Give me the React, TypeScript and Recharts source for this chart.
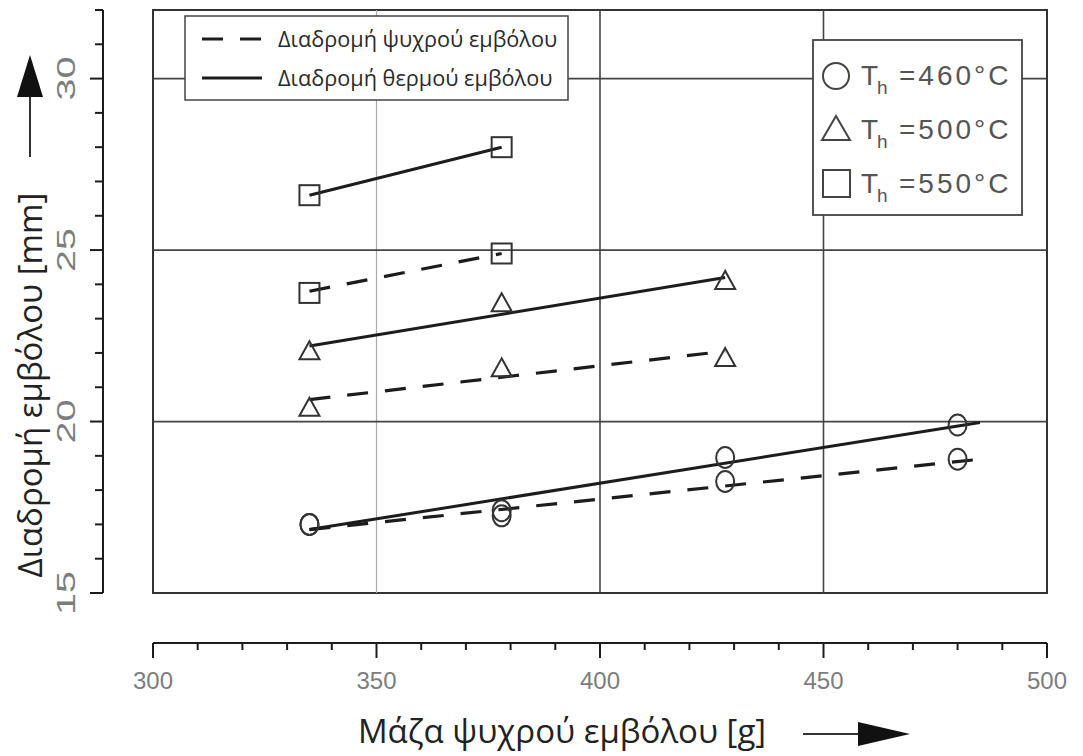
import React from 'react';
import {
  ComposedChart, XAxis, YAxis, Line, Scatter,
  ReferenceLine, ReferenceArea,
} from 'recharts';

// ── axes ─────────────────────────────────────────────────────────────────────
const massDomain = [300, 500];
const massTicks = [300, 350, 400, 450, 500];
const massRulerTicks = [
  300, 310, 320, 330, 340, 350, 360, 370, 380, 390, 400,
  410, 420, 430, 440, 450, 460, 470, 480, 490, 500,
];
const strokeDomain = [15, 32];
const strokeTicks = [15, 20, 25, 30];
const strokeRulerTicks = [15, 16, 17, 18, 19, 20, 21, 22, 23, 24, 25, 26, 27, 28, 29, 30, 31, 32];
const gridMass = [350, 400, 450];
const gridStroke = [20, 25, 30];

// ── measured points (x = cold piston mass g, y = stroke mm) ──────────────────
const circleHot = [{ x: 335, y: 17.0 }, { x: 378, y: 17.4 }, { x: 428, y: 18.95 }, { x: 480, y: 19.9 }];
const circleCold = [{ x: 335, y: 17.0 }, { x: 378, y: 17.25 }, { x: 428, y: 18.25 }, { x: 480, y: 18.9 }];
const triangleHot = [{ x: 335, y: 22.05 }, { x: 378, y: 23.45 }, { x: 428, y: 24.1 }];
const triangleCold = [{ x: 335, y: 20.4 }, { x: 378, y: 21.55 }, { x: 428, y: 21.85 }];
const squareHot = [{ x: 335, y: 26.6 }, { x: 378, y: 28.0 }];
const squareCold = [{ x: 335, y: 23.75 }, { x: 378, y: 24.9 }];

// ── fitted lines ─────────────────────────────────────────────────────────────
const circleHotFit = [{ x: 335, y: 16.85 }, { x: 485, y: 19.97 }];
const circleColdFit = [{ x: 335, y: 16.85 }, { x: 485, y: 18.9 }];
const triangleHotFit = [{ x: 335, y: 22.2 }, { x: 428, y: 24.2 }];
const triangleColdFit = [{ x: 335, y: 20.64 }, { x: 428, y: 22.05 }];
const squareHotFit = [{ x: 335, y: 26.6 }, { x: 378, y: 28.0 }];
const squareColdFit = [{ x: 335, y: 23.8 }, { x: 378, y: 24.9 }];

const lineLegend = ['Διαδρομή ψυχρού εμβόλου', 'Διαδρομή θερμού εμβόλου'];
const tempLegend = ['=460°C', '=500°C', '=550°C'];

const INK = '#1c1c1c';
const MARK = '#333';
const TICK_TEXT = '#7d7d7d';
const DASH = '21 17';
const SANS = '"Open Sans", sans-serif';
const PLOT_FONT = '"Liberation Sans", Arial, sans-serif';

const CircleMark = (p: any) => (
  <ellipse cx={p.cx} cy={p.cy} rx={9} ry={10.5} fill="none" stroke={MARK} strokeWidth={2} />
);
const TriangleMark = (p: any) => (
  <polygon
    points={`${p.cx},${p.cy - 10} ${p.cx - 10},${p.cy + 8} ${p.cx + 10},${p.cy + 8}`}
    fill="none" stroke={MARK} strokeWidth={2}
  />
);
const SquareMark = (p: any) => (
  <rect x={p.cx - 10} y={p.cy - 10} width={20} height={20} fill="none" stroke={MARK} strokeWidth={2} />
);

// ruler ticks: long at labelled values, short in between
const MassTick = ({ x, y, payload }: any) => {
  const major = payload.value % 50 === 0;
  return (
    <g>
      <line x1={x} x2={x} y1={y} y2={y + (major ? 15 : 7)} stroke={INK} strokeWidth={2} />
      {major && (
        <text x={x} y={y + 46} textAnchor="middle" fontSize={24} fill={TICK_TEXT} fontFamily={PLOT_FONT}>
          {payload.value}
        </text>
      )}
    </g>
  );
};

const StrokeTick = ({ x, y, payload }: any) => {
  const major = payload.value % 5 === 0;
  return (
    <g>
      <line x1={x - (major ? 13 : 8)} x2={x} y1={y} y2={y} stroke={INK} strokeWidth={2} />
      {major && (
        <text
          transform={`translate(${x - 37},${y}) rotate(-90)`}
          dy={9}
          textAnchor="middle"
          fontSize={25}
          fill={TICK_TEXT}
          fontFamily={PLOT_FONT}
          textLength={44}
          lengthAdjust="spacingAndGlyphs"
        >
          {payload.value}
        </text>
      )}
    </g>
  );
};

function Overlay() {
  return (
    <svg width={1083} height={756} style={{ position: 'absolute', left: 0, top: 0, pointerEvents: 'none' }}>
      {/* line style legend */}
      <rect x={185} y={16} width={383} height={84} fill="#fff" stroke="#444" strokeWidth={1.5} />
      <line x1={202} x2={262} y1={39} y2={39} stroke={INK} strokeWidth={3} strokeDasharray={DASH} />
      <line x1={202} x2={262} y1={78} y2={78} stroke={INK} strokeWidth={3} />
      {lineLegend.map((t, i) => (
        <text key={t} x={278} y={47 + i * 39} fontSize={21.7} fill="#2a2a2a" fontFamily={SANS}>{t}</text>
      ))}

      {/* temperature legend */}
      <rect x={813} y={40} width={209} height={175} fill="#fff" stroke="#444" strokeWidth={1.8} />
      <circle cx={836} cy={76} r={13} fill="none" stroke="#444" strokeWidth={2} />
      <polygon points="836,116 822,140 850,140" fill="none" stroke="#444" strokeWidth={2} />
      <rect x={823} y={170} width={27} height={27} fill="none" stroke="#444" strokeWidth={2} />
      {tempLegend.map((t, i) => {
        const base = 85 + i * 54;
        return (
          <g key={t} fill="#555" fontFamily={PLOT_FONT}>
            <text x={861} y={base} fontSize={28}>T</text>
            <text x={877} y={base + 9} fontSize={19}>h</text>
            <text x={899} y={base} fontSize={28} letterSpacing={3}>{t}</text>
          </g>
        );
      })}

      {/* axis titles with arrows */}
      <text
        transform="translate(42,385) rotate(-90)"
        textAnchor="middle"
        fontSize={33}
        fill="#222"
        fontFamily={SANS}
      >
        Διαδρομή εμβόλου [mm]
      </text>
      <polygon points="30,55 17,97 43,97" fill="#111" />
      <line x1={30} x2={30} y1={97} y2={157} stroke="#333" strokeWidth={2} />

      <text x={562} y={743} textAnchor="middle" fontSize={33} fill="#222" fontFamily={SANS}>
        Μάζα ψυχρού εμβόλου [g]
      </text>
      <line x1={803} x2={862} y1={734} y2={734} stroke="#333" strokeWidth={2} />
      <polygon points="858,722 910,734 858,746" fill="#111" />
    </svg>
  );
}

export default function App() {
  return (
    <div style={{ position: 'relative', width: 1083, height: 756, background: '#fff' }}>
      <style>{'body{margin:0}'}</style>
      <ComposedChart
        width={1083}
        height={756}
        margin={{ top: 10, right: 36, bottom: 53, left: 23 }}
      >
        <XAxis
          xAxisId="m" dataKey="x" type="number" domain={massDomain} ticks={massTicks}
          allowDataOverflow height={50} axisLine={false} tickLine={false} tick={false}
        />
        <XAxis
          xAxisId="ruler" dataKey="x" type="number" domain={massDomain} ticks={massRulerTicks}
          interval={0} allowDataOverflow height={60}
          axisLine={{ stroke: INK, strokeWidth: 2 }} tickLine={false} tickSize={0} tickMargin={0}
          tick={MassTick}
        />
        <YAxis
          yAxisId="m" dataKey="y" type="number" domain={strokeDomain} ticks={strokeTicks}
          allowDataOverflow width={50} axisLine={false} tickLine={false} tick={false}
        />
        <YAxis
          yAxisId="ruler" dataKey="y" type="number" domain={strokeDomain} ticks={strokeRulerTicks}
          interval={0} allowDataOverflow width={80}
          axisLine={{ stroke: INK, strokeWidth: 2 }} tickLine={false} tickSize={0} tickMargin={0}
          tick={StrokeTick}
        />

        {gridMass.map((v) => (
          <ReferenceLine
            key={`gx${v}`} x={v} xAxisId="m" yAxisId="m"
            stroke={v === 350 ? '#aaa' : '#444'} strokeWidth={v === 350 ? 1.2 : 1.6}
          />
        ))}
        {gridStroke.map((v) => (
          <ReferenceLine key={`gy${v}`} y={v} xAxisId="m" yAxisId="m" stroke="#444" strokeWidth={1.8} />
        ))}
        <ReferenceArea
          x1={massDomain[0]} x2={massDomain[1]} y1={strokeDomain[0]} y2={strokeDomain[1]}
          xAxisId="m" yAxisId="m" fill="none" fillOpacity={0} stroke="#333" strokeWidth={2}
        />

        {[circleHotFit, triangleHotFit, squareHotFit].map((d, i) => (
          <Line
            key={`hot${i}`} data={d} dataKey="y" xAxisId="m" yAxisId="m" type="linear"
            stroke={INK} strokeWidth={3} dot={false} activeDot={false} isAnimationActive={false}
          />
        ))}
        {[circleColdFit, triangleColdFit, squareColdFit].map((d, i) => (
          <Line
            key={`cold${i}`} data={d} dataKey="y" xAxisId="m" yAxisId="m" type="linear"
            stroke={INK} strokeWidth={3.2} strokeDasharray={DASH}
            dot={false} activeDot={false} isAnimationActive={false}
          />
        ))}

        <Scatter data={circleHot} xAxisId="m" yAxisId="m" shape={CircleMark} isAnimationActive={false} />
        <Scatter data={circleCold} xAxisId="m" yAxisId="m" shape={CircleMark} isAnimationActive={false} />
        <Scatter data={triangleHot} xAxisId="m" yAxisId="m" shape={TriangleMark} isAnimationActive={false} />
        <Scatter data={triangleCold} xAxisId="m" yAxisId="m" shape={TriangleMark} isAnimationActive={false} />
        <Scatter data={squareHot} xAxisId="m" yAxisId="m" shape={SquareMark} isAnimationActive={false} />
        <Scatter data={squareCold} xAxisId="m" yAxisId="m" shape={SquareMark} isAnimationActive={false} />
      </ComposedChart>
      <Overlay />
    </div>
  );
}
